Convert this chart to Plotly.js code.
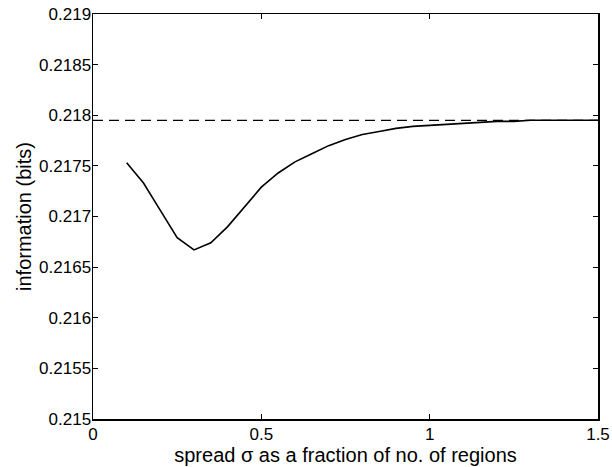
<!DOCTYPE html>
<html>
<head>
<meta charset="utf-8">
<script src="https://cdn.plot.ly/plotly-3.0.1.min.js"></script>
<style>html,body{margin:0;padding:0;background:#fff;}#chart{width:612px;height:467px;}</style>
</head>
<body>
<div id="chart"></div>
<script>
const spread = [0.10,0.15,0.20,0.25,0.30,0.35,0.40,0.45,0.50,0.55,0.60,0.65,0.70,0.75,0.80,0.85,0.90,0.95,1.00,1.05,1.10,1.15,1.20,1.25,1.30,1.35,1.40,1.45,1.50];
const information = [0.21753,0.21733,0.21706,0.21679,0.21667,0.21674,0.21690,0.21710,0.21729,0.21743,0.21754,0.21762,0.21770,0.21776,0.21781,0.21784,0.21787,0.21789,0.21790,0.21791,0.21792,0.21793,0.21794,0.21794,0.21795,0.21795,0.21795,0.21795,0.21795];
const refX = [0, 1.5];
const refY = [0.21795, 0.21795];
const xTicks = [0, 0.5, 1, 1.5];
const xTickText = ["0", "0.5", "1", "1.5"];
const yTicks = [0.215, 0.2155, 0.216, 0.2165, 0.217, 0.2175, 0.218, 0.2185, 0.219];
const yTickText = ["0.215", "0.2155", "0.216", "0.2165", "0.217", "0.2175", "0.218", "0.2185", "0.219"];

const font = {family: "Liberation Sans, Arial, sans-serif", size: 17, color: "#000"};
const titleFont = {family: "Liberation Sans, Arial, sans-serif", size: 20, color: "#000"};
const traces = [
  {x: refX, y: refY, mode: "lines", line: {color: "#000", width: 1.2, dash: "10px,6px"}, hoverinfo: "skip"},
  {x: spread, y: information, mode: "lines", line: {color: "#000", width: 1.6}}
];
const axisCommon = {
  showgrid: false, zeroline: false, showline: true, mirror: "ticks",
  linecolor: "#000", linewidth: 1.5, ticks: "inside", ticklen: 5, tickcolor: "#000", tickwidth: 1.2,
  tickfont: font
};
const layout = {
  width: 612, height: 467,
  margin: {l: 93, r: 14, t: 14, b: 48},
  paper_bgcolor: "#fff", plot_bgcolor: "#fff",
  showlegend: false,
  font: font,
  xaxis: Object.assign({}, axisCommon, {
    range: [0, 1.5], tickvals: xTicks, ticktext: xTickText, ticklabelstandoff: -1,
    title: {text: "spread σ as a fraction of no. of regions", font: titleFont, standoff: 0}
  }),
  yaxis: Object.assign({}, axisCommon, {
    range: [0.215, 0.219], tickvals: yTicks, ticktext: yTickText, ticklabelstandoff: -3,
    title: {text: "information (bits)", font: titleFont, standoff: 2}
  })
};
Plotly.newPlot("chart", traces, layout, {displayModeBar: false, staticPlot: true});
</script>
</body>
</html>
